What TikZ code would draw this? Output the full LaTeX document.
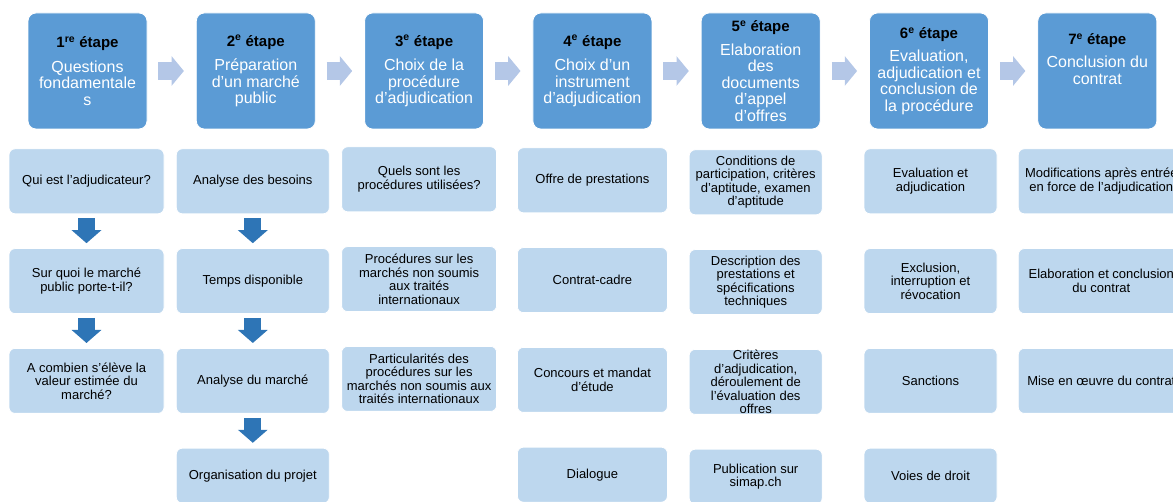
\documentclass[tikz,border=0pt]{standalone}
\usepackage{fontspec}
\setmainfont{Liberation Sans}
\usetikzlibrary{arrows.meta,positioning}

\definecolor{stepblue}{HTML}{5B9BD5}
\definecolor{itemblue}{HTML}{BDD7EE}
\definecolor{chevblue}{HTML}{B4C7E7}
\definecolor{downblue}{HTML}{2E75B6}

\newcommand{\etape}[2]{\textbf{\color{black}\fontsize{15}{16.5}\selectfont #1\textsuperscript{#2} étape}}

\begin{document}
\begin{tikzpicture}[
    x=1pt, y=-1pt,
    node distance=34pt and 48.5pt,
    stepbox/.style={rectangle, draw=white, line width=0.8pt, fill=stepblue, rounded corners=8pt,
                minimum width=119pt, minimum height=116pt, inner sep=2pt,
                align=center, text=white, font=\fontsize{16}{16.5}\selectfont},
    itembox/.style={rectangle, draw=white, line width=0.8pt, fill=itemblue, rounded corners=6pt,
                minimum height=65pt, inner xsep=2pt, inner ysep=0pt,
                align=center, font=\fontsize{13}{13.5}\selectfont},
    lastbox/.style={itembox, minimum height=55pt},
    chevron/.style={draw=chevblue, line width=17.5pt, -{Triangle[length=12.3pt,width=29pt]},
                shorten <=11pt, shorten >=12pt},
    downarrow/.style={draw=downblue, line width=17pt, -{Triangle[length=13pt,width=29pt]},
                shorten <=4pt, shorten >=5pt}
]
\useasboundingbox (0,0) rectangle (1173,502);
\clip (0,0) rectangle (1173,502);

% the seven stages
\node[stepbox] (h1) at (87.5,71) {\etape{1}{re}\\[8pt]Questions\\fondamentale\\s};
\node[stepbox, right=of h1] (h2) {\etape{2}{e}\\[8pt]Préparation\\d’un marché\\public};
\node[stepbox, right=of h2] (h3) {\etape{3}{e}\\[8pt]Choix de la\\procédure\\d’adjudication};
\node[stepbox, right=of h3] (h4) {\etape{4}{e}\\[8pt]Choix d’un\\instrument\\d’adjudication};
\node[stepbox, right=of h4] (h5) {\etape{5}{e}\\[7pt]Elaboration\\des\\documents\\d’appel\\d’offres};
\node[stepbox, right=of h5] (h6) {\etape{6}{e}\\[7pt]Evaluation,\\adjudication et\\conclusion de\\la procédure};
\node[stepbox, right=of h6] (h7) {\etape{7}{e}\\[7pt]Conclusion du\\contrat\\[7.5pt]\mbox{}};

% 1re etape
\node[itembox, minimum width=155pt, below=19pt of h1, xshift=-1pt] (q1) {Qui est l’adjudicateur?};
\node[itembox, minimum width=155pt, below=of q1] (q2) {Sur quoi le marché\\public porte-t-il?};
\node[itembox, minimum width=155pt, below=of q2] (q3) {A combien s’élève la\\valeur estimée du\\marché?};

% 2e etape
\node[itembox, minimum width=153pt, below=19pt of h2, xshift=-3pt] (p1) {Analyse des besoins};
\node[itembox, minimum width=153pt, below=of p1] (p2) {Temps disponible};
\node[itembox, minimum width=153pt, below=of p2] (p3) {Analyse du marché};
\node[lastbox, minimum width=153pt, below=of p3] (p4) {Organisation du projet};

% 3e etape
\node[itembox, minimum width=155pt, below=17pt of h3, xshift=-5pt] (c1) {Quels sont les\\procédures utilisées?};
\node[itembox, minimum width=155pt, below=of c1] (c2) {Procédures sur les\\marchés non soumis\\aux traités\\internationaux};
\node[itembox, minimum width=155pt, below=of c2] (c3) {Particularités des\\procédures sur les\\marchés non soumis aux\\traités internationaux};

% 4e etape
\node[itembox, minimum width=150pt, below=18pt of h4] (i1) {Offre de prestations};
\node[itembox, minimum width=150pt, below=of i1] (i2) {Contrat-cadre};
\node[itembox, minimum width=150pt, below=of i2] (i3) {Concours et mandat\\d’étude};
\node[lastbox, minimum width=150pt, below=of i3] (i4) {Dialogue};

% 5e etape
\node[itembox, minimum width=133pt, below=20pt of h5, xshift=-5pt] (d1) {Conditions de\\participation, critères\\d’aptitude, examen\\d’aptitude};
\node[itembox, minimum width=133pt, below=of d1] (d2) {Description des\\prestations et\\spécifications\\techniques};
\node[itembox, minimum width=133pt, below=of d2] (d3) {Critères\\d’adjudication,\\déroulement de\\l’évaluation des\\offres};
\node[lastbox, minimum width=133pt, below=of d3] (d4) {Publication sur\\simap.ch};

% 6e etape
\node[itembox, minimum width=133pt, below=19pt of h6, xshift=1.5pt] (e1) {Evaluation et\\adjudication};
\node[itembox, minimum width=133pt, below=of e1] (e2) {Exclusion,\\interruption et\\révocation};
\node[itembox, minimum width=133pt, below=of e2] (e3) {Sanctions};
\node[lastbox, minimum width=133pt, below=of e3] (e4) {Voies de droit};

% 7e etape
\node[itembox, minimum width=166pt, below=19pt of h7, xshift=4pt] (k1) {Modifications après entrée\\en force de l’adjudication};
\node[itembox, minimum width=166pt, below=of k1] (k2) {Elaboration et conclusion\\du contrat};
\node[itembox, minimum width=166pt, below=of k2] (k3) {Mise en œuvre du contrat};

\draw[chevron] (h1) -- (h2);
\draw[chevron] (h2) -- (h3);
\draw[chevron] (h3) -- (h4);
\draw[chevron] (h4) -- (h5);
\draw[chevron] (h5) -- (h6);
\draw[chevron] (h6) -- (h7);

\draw[downarrow] (q1) -- (q2);
\draw[downarrow] (q2) -- (q3);
\draw[downarrow] (p1) -- (p2);
\draw[downarrow] (p2) -- (p3);
\draw[downarrow] (p3) -- (p4);
\end{tikzpicture}
\end{document}
